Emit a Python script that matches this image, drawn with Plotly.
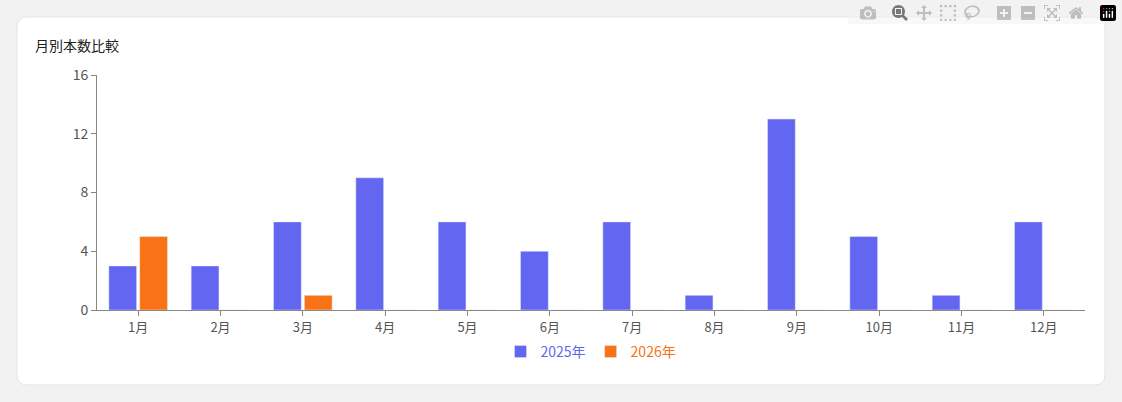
import plotly.graph_objects as go

months = ["1月","2月","3月","4月","5月","6月","7月","8月","9月","10月","11月","12月"]
y2025 = [3,3,6,9,6,4,6,1,13,5,1,6]
y2026 = [5,0,1,0,0,0,0,0,0,0,0,0]
c25, c26 = "#6366f1", "#f97316"

fig = go.Figure()
fig.add_bar(x=months, y=y2025, marker_color=c25, name=f"<span style='color:{c25}'>2025年</span>")
fig.add_bar(x=months, y=y2026, marker_color=c26, name=f"<span style='color:{c26}'>2026年</span>")

W, H = 1122, 402
l, r, t, b = 97, 37, 75, 92
pw, ph = W - l - r, H - t - b
def px(x): return (x - l) / pw
def py(y): return (H - b - y) / ph
rx, ry = 10 / pw, 10 / ph
x0, x1, y0, y1 = px(17), px(1105), py(385), py(17)
path = (f"M{x0+rx},{y1} L{x1-rx},{y1} Q{x1},{y1} {x1},{y1-ry} L{x1},{y0+ry} Q{x1},{y0} {x1-rx},{y0} "
        f"L{x0+rx},{y0} Q{x0},{y0} {x0},{y0+ry} L{x0},{y1-ry} Q{x0},{y1} {x0+rx},{y1} Z")

fig.update_layout(
    width=W, height=H, margin=dict(l=l, r=r, t=t, b=b),
    paper_bgcolor="#f2f2f2", plot_bgcolor="rgba(0,0,0,0)",
    font=dict(family="Noto Sans CJK JP, Noto Sans", size=13, color="#555"),
    barmode="group", bargap=0.25, bargroupgap=0.1,
    shapes=[dict(type="path", xref="paper", yref="paper", path=path,
                 fillcolor="white", line=dict(color="#e5e5e5", width=1), layer="below")],
    annotations=[dict(text="月別本数比較", xref="paper", yref="paper", x=px(33), y=py(45),
                      xanchor="left", yanchor="middle", showarrow=False,
                      font=dict(size=14, color="#222"))],
    legend=dict(orientation="h", x=0.5, xanchor="center", y=py(352), yanchor="middle",
                font=dict(size=14), itemwidth=30, tracegroupgap=0, bgcolor="rgba(0,0,0,0)"),
    xaxis=dict(showline=True, linecolor="#888", ticks="outside", tickcolor="#888",
               ticklen=5, showgrid=False),
    yaxis=dict(range=[0, 16], tickvals=[0,4,8,12,16], showline=True, linecolor="#888",
               ticks="outside", tickcolor="#888", ticklen=5, showgrid=False, zeroline=False,
               tickfont=dict(size=14)),
)
fig.write_html("out.html", post_script="document.body.style.margin='0';document.body.style.background='#f2f2f2';document.body.style.overflow='hidden';")
